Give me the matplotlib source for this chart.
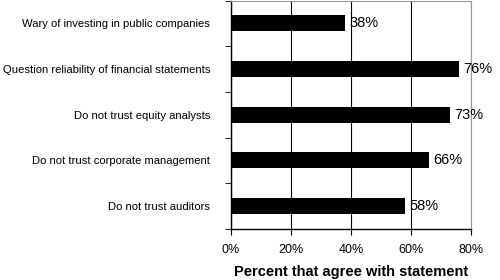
import matplotlib
matplotlib.use("Agg")
import matplotlib.pyplot as plt
import numpy as np

statements = ["Wary of investing in public companies",
              "Question reliability of financial statements",
              "Do not trust equity analysts",
              "Do not trust corporate management",
              "Do not trust auditors"]
agree = [38, 76, 73, 66, 58]
xticks = [0, 20, 40, 60, 80]

plt.rcParams['font.family'] = ['Liberation Sans', 'DejaVu Sans']

fig = plt.figure(figsize=(5, 2.8), dpi=100)
ax = fig.add_axes([0.462, 0.182, 0.48, 0.816])

ypos = np.arange(len(statements))
ax.barh(ypos, agree, height=0.35, color="black", zorder=3)
for y, v in zip(ypos, agree):
    ax.annotate(f"{v}%", (v, y), xytext=(3, 0), textcoords="offset points",
                va="center", ha="left", fontsize=10.5)

ax.set_xlim(0, 80)
ax.set_ylim(len(statements) - 0.5, -0.5)
ax.set_xticks(xticks)
ax.set_xticklabels([f"{t}%" for t in xticks], fontsize=9)
ax.xaxis.grid(True, color="black", linewidth=0.8, zorder=0)
ax.set_yticks(ypos)
ax.set_yticklabels(statements, fontsize=8.1)
ax.tick_params(axis="y", which="major", length=0, pad=15)
ax.set_yticks(np.arange(-0.5, len(statements)), minor=True)
ax.tick_params(axis="y", which="minor", length=4, direction="out")
ax.tick_params(axis="x", length=4, direction="out", pad=7)
ax.set_xlabel("Percent that agree with statement", fontsize=10.5,
              fontweight="bold", labelpad=6)

for s in ["top", "right"]:
    ax.spines[s].set_color("#999999")
    ax.spines[s].set_linewidth(0.8)
for s in ["left", "bottom"]:
    ax.spines[s].set_color("black")
    ax.spines[s].set_linewidth(1.0)

fig.savefig("out.png", dpi=100)
